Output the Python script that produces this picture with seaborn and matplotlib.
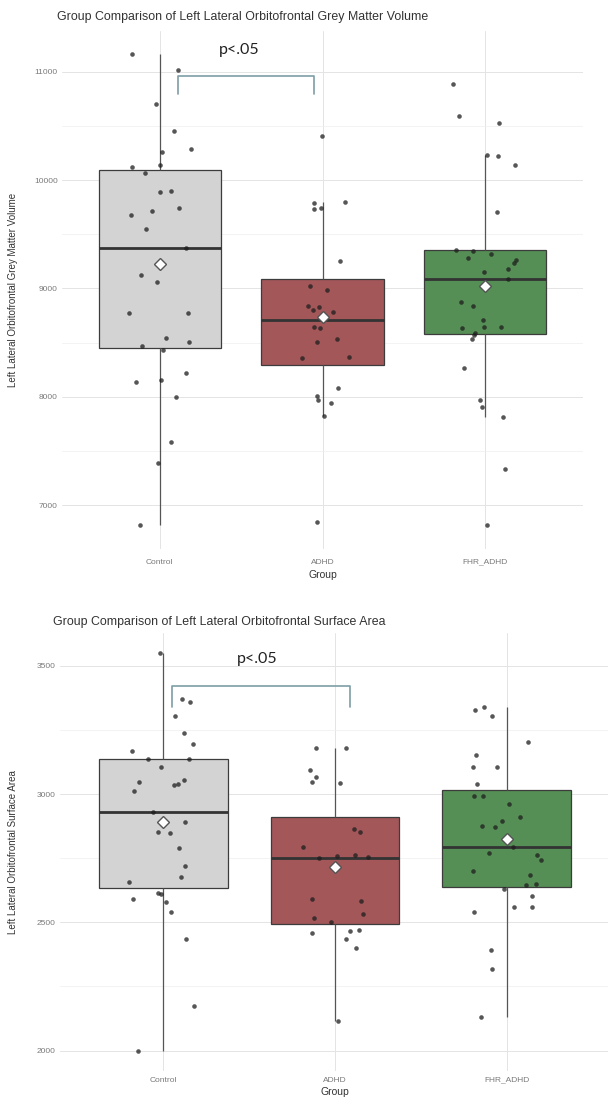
import numpy as np
import pandas as pd
import matplotlib.pyplot as plt
import seaborn as sns
from matplotlib.ticker import MultipleLocator

groups = ["Control", "ADHD", "FHR_ADHD"]

# grey matter volume, top panel
gmv_control = [11162, 11015, 10701, 10449, 10290, 10260, 10138, 10123, 10062, 9886,
               9901, 9739, 9717, 9680, 9545, 9370, 9124, 9056, 8773, 8773, 8540,
               8506, 8466, 8432, 8222, 8137, 8155, 8001, 7586, 7386, 6814]
gmv_adhd = [10406, 9730, 9745, 9790, 9800, 9256, 9025, 8988, 8838, 8831, 8801, 8785,
            8641, 8632, 8530, 8510, 8365, 8358, 8084, 8011, 7970, 7945, 7823, 6842]
gmv_fhr = [10883, 10593, 10523, 10232, 10226, 10141, 9702, 9354, 9350, 9315, 9280,
           9259, 9231, 9182, 9148, 9087, 8878, 8835, 8708, 8647, 8641, 8632, 8592,
           8567, 8530, 8262, 7970, 7902, 7816, 7331, 6817]

# surface area, bottom panel
sa_control = [3550, 3370, 3360, 3305, 3236, 3195, 3166, 3135, 3135, 3106, 3053, 3038,
              3045, 3035, 3010, 2931, 2892, 2851, 2847, 2791, 2721, 2676, 2658, 2613,
              2610, 2591, 2580, 2540, 2435, 2174, 1998]
sa_adhd = [3180, 3180, 3093, 3065, 3044, 3048, 2864, 2851, 2792, 2760, 2762, 2755,
           2750, 2591, 2583, 2531, 2515, 2500, 2467, 2470, 2460, 2435, 2401, 2117]
sa_fhr = [3338, 3327, 3305, 3201, 3151, 3106, 3104, 3040, 2994, 2994, 2962, 2910, 2895,
          2876, 2870, 2794, 2761, 2743, 2771, 2700, 2683, 2649, 2630, 2645, 2603, 2560,
          2558, 2539, 2391, 2319, 2130]

palette = {"Control": "#d3d3d3", "ADHD": "#b04a4d", "FHR_ADHD": "#4d984d"}

sns.set_style("white")
plt.rcParams['font.family'] = ['Liberation Sans', 'DejaVu Sans']

np.random.seed(7)


def draw_panel(ax, control, adhd, fhr, ylabel, step):
    df = pd.DataFrame({
        "Group": ["Control"] * len(control) + ["ADHD"] * len(adhd) + ["FHR_ADHD"] * len(fhr),
        "value": control + adhd + fhr,
    })
    sns.boxplot(data=df, x="Group", y="value", hue="Group", order=groups,
                palette=palette, width=0.75, showfliers=False, legend=False,
                linecolor="#3c3c3c", linewidth=0.9, showcaps=False,
                whiskerprops=dict(color="#555555", linewidth=0.9),
                medianprops=dict(color="#333333", linewidth=2),
                showmeans=True,
                meanprops=dict(marker="D", markerfacecolor="white",
                               markeredgecolor="#555555", markersize=6, zorder=5),
                ax=ax)
    sns.stripplot(data=df, x="Group", y="value", order=groups, color="#1e1e1e",
                  alpha=0.75, size=3.3, jitter=0.2, ax=ax, zorder=3)

    lo, hi = min(df["value"]), max(df["value"])
    pad = 0.05 * (hi - lo)
    ax.set_ylim(lo - pad, hi + pad)
    ax.set_xlim(-0.6, 2.6)
    ax.yaxis.set_major_locator(MultipleLocator(step))
    ax.yaxis.set_minor_locator(MultipleLocator(step / 2))
    ax.set_axisbelow(True)
    ax.grid(which="major", color="#e4e4e4", linewidth=0.7)
    ax.grid(which="minor", axis="y", color="#efefef", linewidth=0.5)
    for s in ax.spines.values():
        s.set_visible(False)
    ax.tick_params(axis="both", which="both", length=0, labelsize=6, colors="#7a7a7a")
    ax.tick_params(axis="y", pad=3)
    ax.set_ylabel(ylabel, fontsize=7, color="#333333")
    ax.set_xlabel("Group", fontsize=7.5, color="#333333")


fig = plt.figure(figsize=(6.08, 10.99), dpi=100)

ax1 = fig.add_axes([0.102, 0.5005, 0.857, 0.4717])
draw_panel(ax1, gmv_control, gmv_adhd, gmv_fhr,
           "Left Lateral Orbitofrontal Grey Matter Volume", 1000)
ax1.tick_params(axis="x", pad=7)
ax1.yaxis.set_label_coords(-0.084, 0.5)
ax1.xaxis.set_label_coords(0.5, -0.040)

ax2 = fig.add_axes([0.0987, 0.0255, 0.9046, 0.3985])
draw_panel(ax2, sa_control, sa_adhd, sa_fhr,
           "Left Lateral Orbitofrontal Surface Area", 500)
ax2.tick_params(axis="x", pad=4)
ax2.yaxis.set_label_coords(-0.076, 0.5)
ax2.xaxis.set_label_coords(0.5, -0.036)

# titles
fig.text(57 / 608, 1 - 17 / 1099, "Group Comparison of Left Lateral Orbitofrontal Grey Matter Volume",
         fontsize=8.9, color="#333333", va="center", ha="left")
fig.text(53 / 608, 1 - 622 / 1099, "Group Comparison of Left Lateral Orbitofrontal Surface Area",
         fontsize=8.9, color="#333333", va="center", ha="left")

# significance brackets
bracket = "#7d9ea6"
ax1.plot([0.11, 0.11, 0.95, 0.95], [10793, 10959, 10959, 10793], color=bracket, lw=1.2)
ax1.text(0.49, 11199, "p<.05", family=["Lato", "DejaVu Sans"], fontsize=11.5,
         color="#222222", ha="center", va="center")
ax2.plot([0.05, 0.05, 1.09, 1.09], [3339, 3421, 3421, 3339], color=bracket, lw=1.2)
ax2.text(0.55, 3526, "p<.05", family=["Lato", "DejaVu Sans"], fontsize=11.5,
         color="#222222", ha="center", va="center")

fig.savefig("out.png", dpi=100)
